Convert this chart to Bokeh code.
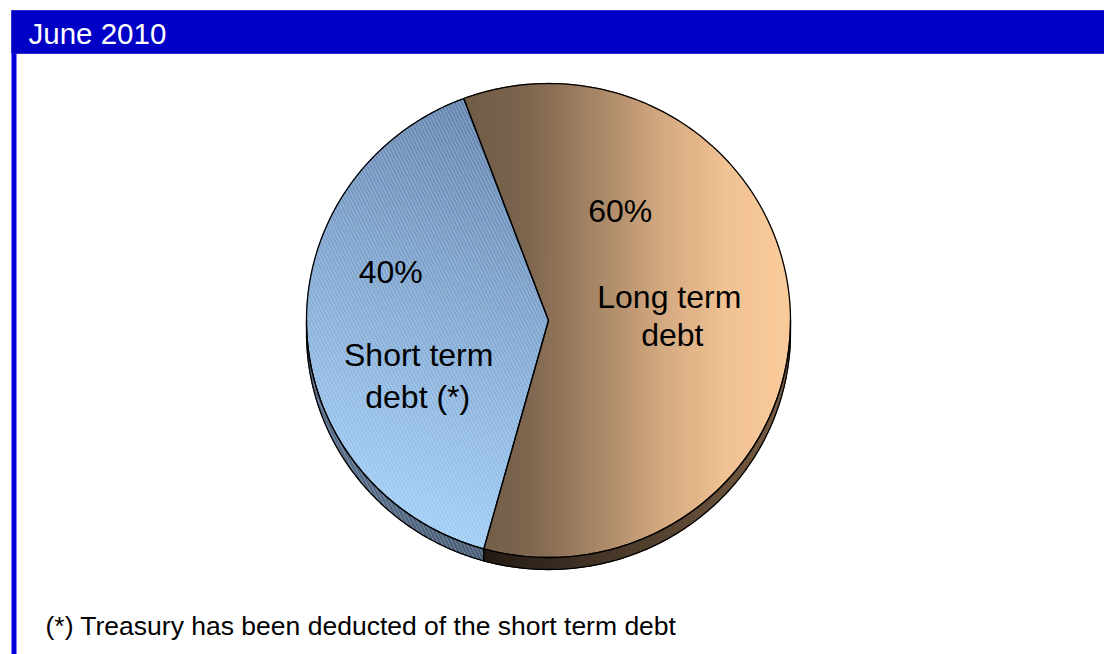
import numpy as np
from bokeh.plotting import figure
from bokeh.models import Range1d, ColumnDataSource
from bokeh.core.properties import value
from bokeh.embed import file_html
from bokeh.resources import INLINE

# ---------------- data ----------------
title_text = "June 2010"
footnote = "(*) Treasury has been deducted of the short term debt"
categories = ["Long term debt", "Short term debt (*)"]
name_lines = [["Long term", "debt"], ["Short term", "debt (*)"]]
values = [60, 40]

# ---------------- style ----------------
FONT = value("Liberation Sans")
CX, CY, RX, RY, DEPTH = 548.0, 320.0, 242.0, 237.0, 12.0
START = 110.5  # first slice start angle (deg), slices drawn clockwise
PCT_OFF = [(-37, -94), (-49, -43)]
NAME_OFF = [[(12, -8), (15, 30)], [(-21, 40), (-22, 82)]]
BASE_FIX = -0.33  # baseline correction, in font-size units

p = figure(width=1104, height=654, output_backend="svg", toolbar_location=None,
           x_range=Range1d(0, 1104), y_range=Range1d(654, 0),
           min_border=0, border_fill_color="white", background_fill_color="white")
p.axis.visible = False
p.grid.visible = False
p.outline_line_color = None

# frame: header bar + left rule
p.quad(left=[11], right=[1104], top=[10], bottom=[53], fill_color="#0000c6",
       line_color="#2a2ad2", line_width=1)
p.quad(left=[11], right=[16], top=[53], bottom=[654], fill_color="#0000dc", line_color=None)
p.text(x=[28], y=[43 + BASE_FIX * 29.5], text=[title_text], text_font=FONT, text_font_size="29.5px",
       text_color="white", text_align="left", text_baseline="alphabetic")
p.text(x=[45], y=[634 + BASE_FIX * 26.5], text=[footnote], text_font=FONT, text_font_size="26.5px",
       text_color="black", text_align="left", text_baseline="alphabetic")


def pt(theta, dy=0.0):
    t = np.radians(theta)
    return (CX + RX * np.cos(t), CY - RY * np.sin(t) + dy)


def arc(a0, a1, n=200, dy=0.0):
    return [pt(t, dy) for t in np.linspace(a0, a1, n)]


def clip(poly, nx, ny, c):
    out = []
    m = len(poly)
    for i in range(m):
        P, Q = poly[i], poly[(i + 1) % m]
        dp = nx * P[0] + ny * P[1] - c
        dq = nx * Q[0] + ny * Q[1] - c
        if dp <= 0:
            out.append(P)
        if (dp <= 0) != (dq <= 0):
            t = dp / (dp - dq)
            out.append((P[0] + t * (Q[0] - P[0]), P[1] + t * (Q[1] - P[1])))
    return out


def to_hex(c):
    return "#%02x%02x%02x" % tuple(int(round(v)) for v in c)


def gradient(poly, direction, stops_s, stops_c, step=2.0):
    nx, ny = direction
    nrm = np.hypot(nx, ny)
    nx, ny = nx / nrm, ny / nrm
    proj = [nx * x + ny * y for x, y in poly]
    smin, smax = min(proj), max(proj)
    xs, ys, cols = [], [], []
    s = smin
    stops_c = np.array(stops_c, dtype=float)
    while s < smax:
        s1 = s + step
        piece = clip(poly, nx, ny, s1 + 0.6)
        piece = clip(piece, -nx, -ny, -(s - 0.6))
        if len(piece) >= 3:
            u = (s + step / 2 - smin) / (smax - smin)
            col = [np.interp(u, stops_s, stops_c[:, k]) for k in range(3)]
            xs.append([q[0] for q in piece])
            ys.append([q[1] for q in piece])
            cols.append(to_hex(col))
        s = s1
    return xs, ys, cols


# slice angles
total = float(sum(values))
bounds = []
a = START
for v in values:
    b = a - 360.0 * v / total
    bounds.append((a, b))
    a = b

tops = []
sides = []  # (slice index, polygon)
for i, (a0, a1) in enumerate(bounds):
    tops.append([(CX, CY)] + arc(a0, a1))
    for k in (-2, -1, 0, 1):
        lo = max(a1, -180 + 360 * k)
        hi = min(a0, 360 * k)
        if hi > lo:
            top_edge = arc(lo, hi, 120)
            bot_edge = arc(hi, lo, 120, DEPTH)
            sides.append((i, top_edge + bot_edge))

top_grad = [
    ((1, 0), [0.0, 0.2, 0.4, 0.6, 0.8, 1.0],
     [(112, 92, 71), (126, 102, 79), (165, 133, 102), (210, 168, 127), (240, 193, 147), (250, 203, 155)]),
    ((-0.35, 0.94), [0.0, 1.0], [(100, 132, 174), (160, 205, 246)]),
]
side_grad = [
    ((1, 0), [0.0, 1.0], [(36, 28, 21), (122, 95, 69)]),
    ((1, 0), [0.0, 1.0], [(88, 110, 140), (70, 90, 116)]),
]

gx, gy, gc = [], [], []
for i, poly in sides:
    d, ss, cc = side_grad[i]
    xs, ys, cols = gradient(poly, d, ss, cc)
    gx += xs; gy += ys; gc += cols
for i, poly in enumerate(tops):
    d, ss, cc = top_grad[i]
    xs, ys, cols = gradient(poly, d, ss, cc)
    gx += xs; gy += ys; gc += cols

p.patches(xs="xs", ys="ys", fill_color="c", line_color="c", line_width=1,
          source=ColumnDataSource(dict(xs=gx, ys=gy, c=gc)))

# hatching on the short-term slice
hx = [[q[0] for q in tops[1]]] + [[q[0] for q in poly] for i, poly in sides if i == 1]
hy = [[q[1] for q in tops[1]]] + [[q[1] for q in poly] for i, poly in sides if i == 1]
p.patches(xs=hx, ys=hy, fill_alpha=0, line_alpha=0, hatch_pattern="\\",
          hatch_color="white", hatch_alpha=0.28, hatch_scale=7, hatch_weight=1)

# outlines
ox = [[q[0] for q in poly] for _, poly in sides] + [[q[0] for q in t] for t in tops]
oy = [[q[1] for q in poly] for _, poly in sides] + [[q[1] for q in t] for t in tops]
p.patches(xs=ox, ys=oy, fill_alpha=0, line_color="black", line_width=1.3)

# labels
lx, ly, lt = [], [], []
for i, (a0, a1) in enumerate(bounds):
    mid = (a0 + a1) / 2.0
    ax = CX + 0.45 * RX * np.cos(np.radians(mid))
    ay = CY - 0.45 * RY * np.sin(np.radians(mid)) + BASE_FIX * 32
    pct = "%d%%" % round(100 * values[i] / total)
    lx.append(ax + PCT_OFF[i][0]); ly.append(ay + PCT_OFF[i][1]); lt.append(pct)
    for j, line in enumerate(name_lines[i]):
        lx.append(ax + NAME_OFF[i][j][0]); ly.append(ay + NAME_OFF[i][j][1]); lt.append(line)
p.text(x=lx, y=ly, text=lt, text_font=FONT, text_font_size="32px", text_color="black",
       text_align="center", text_baseline="alphabetic")

open("out.html", "w").write(file_html(p, INLINE))
